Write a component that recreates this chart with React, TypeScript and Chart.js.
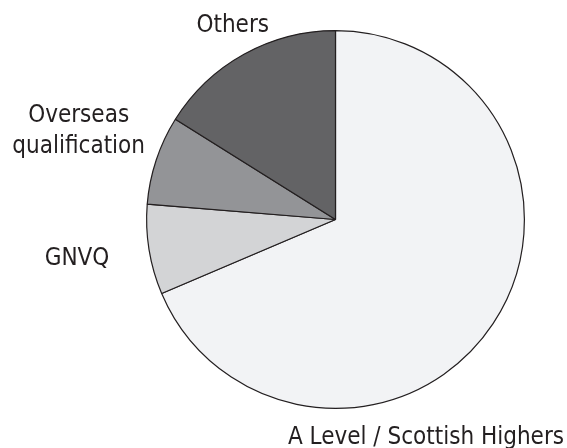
import React, { useEffect, useRef } from "react";
import { Chart, registerables } from "chart.js";

Chart.register(...registerables);

const categories = ["A Level / Scottish Highers", "GNVQ", "Overseas qualification", "Others"];
const labelLines = [["A Level / Scottish Highers"], ["GNVQ"], ["Overseas", "qualification"], ["Others"]];
const shares = [68.6, 7.7, 7.6, 16.1];
const sliceColors = ["#f2f3f5", "#d3d4d6", "#939497", "#636365"];

const outsideLabels = {
  id: "outsideLabels",
  afterDatasetsDraw(chart: any, _args: any, opts: any) {
    const ctx = chart.ctx;
    const meta = chart.getDatasetMeta(0);
    ctx.save();
    ctx.font = opts.font;
    ctx.fillStyle = opts.color;
    ctx.textAlign = "center";
    ctx.textBaseline = "alphabetic";
    meta.data.forEach((arc: any, i: number) => {
      const { x, y, startAngle, endAngle, outerRadius } = arc.getProps(
        ["x", "y", "startAngle", "endAngle", "outerRadius"],
        true
      );
      const mid = (startAngle + endAngle) / 2 + (opts.angleAdjust[i] * Math.PI) / 180;
      const d = outerRadius * opts.distance[i];
      const px = x + Math.cos(mid) * d;
      const py = y + Math.sin(mid) * d;
      labelLines[i].forEach((line, j) => {
        ctx.fillText(line, px, py + j * opts.lineHeight);
      });
    });
    ctx.restore();
  },
};

export default function App() {
  const ref = useRef<HTMLCanvasElement | null>(null);
  useEffect(() => {
    document.body.style.margin = "0";
    const chart = new Chart(ref.current as HTMLCanvasElement, {
      type: "pie",
      data: {
        labels: categories,
        datasets: [
          {
            data: shares,
            backgroundColor: sliceColors,
            borderColor: "#231f20",
            borderWidth: 1.2,
          },
        ],
      },
      options: {
        responsive: false,
        animation: false,
        layout: { padding: { top: 30, bottom: 39, left: 146, right: 42 } },
        plugins: {
          legend: { display: false },
          tooltip: { enabled: false },
          outsideLabels: {
            font: "24px 'DejaVu Sans Condensed', 'DejaVu Sans', sans-serif",
            color: "#231f20",
            lineHeight: 31,
            angleAdjust: [34.6, -0.9, 2.5, 0.2],
            distance: [1.283, 1.39, 1.455, 1.13],
          },
        } as any,
      },
      plugins: [outsideLabels],
    });
    return () => chart.destroy();
  }, []);
  return (
    <div style={{ position: "absolute", left: 0, top: 0, width: 567, height: 448, background: "#fff" }}>
      <canvas ref={ref} width={567} height={448} />
    </div>
  );
}
